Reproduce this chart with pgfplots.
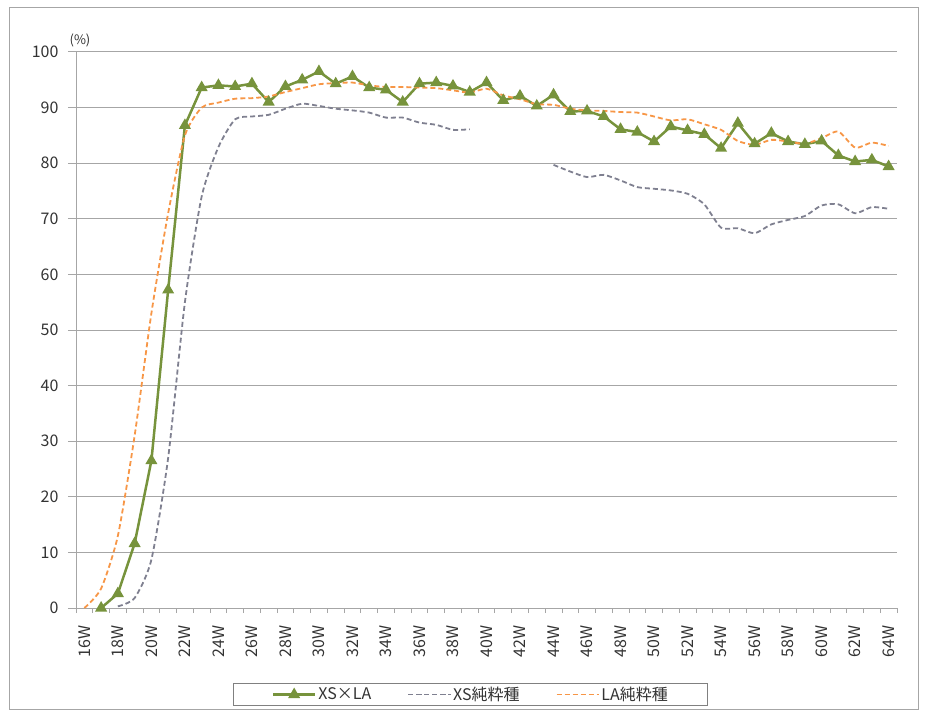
\documentclass[border=0pt]{standalone}
\usepackage{fontspec}
\setmainfont{Noto Sans CJK JP}
\usepackage{pgfplots}
\pgfplotsset{compat=1.18}
\definecolor{xsla}{HTML}{77933C}
\definecolor{xspure}{HTML}{7F8090}
\definecolor{lapure}{HTML}{F79646}
\definecolor{axgray}{HTML}{A6A6A6}
\definecolor{txt}{HTML}{333333}

\begin{document}
\begin{tikzpicture}[x=1pt,y=1pt]
\useasboundingbox (-76,-107) rectangle (852,608);
\draw[axgray, line width=1pt] (-66,-101) rectangle (842,600);
\begin{axis}[
  at={(0,0)}, anchor=south west,
  scale only axis, width=821pt, height=556pt,
  xmin=15.5, xmax=64.5, ymin=0, ymax=100,
  axis x line*=bottom, axis y line*=left,
  axis line style={axgray, line width=1pt},
  ymajorgrids, grid style={axgray, line width=1pt},
  ytick={0,10,...,100},
  xtick={16,18,...,64},
  xticklabels={16W,18W,20W,22W,24W,26W,28W,30W,32W,34W,36W,38W,40W,42W,44W,46W,48W,50W,52W,54W,56W,58W,60W,62W,64W},
  minor xtick={15.5,16.5,...,64.5},
  major x tick style={draw=none},
  minor x tick style={axgray, line width=0.8pt},
  y tick style={axgray, line width=1pt},
  tick align=outside, major tick length=8pt, minor tick length=5pt,
  /pgf/number format/assume math mode=true,
  ticklabel style={font=\fontsize{16}{18}\selectfont, text=txt},
  xticklabel style={rotate=90, anchor=east},
  xticklabel shift=6pt, yticklabel shift=6pt,
  legend style={at={(0.481,-0.1763)}, anchor=south, legend columns=-1,
    draw=gray, line width=1pt, font=\fontsize{16}{18}\selectfont, text=txt,
    inner xsep=38pt, inner ysep=1.5pt, /tikz/every even column/.append style={column sep=34pt}},
  legend image code/.code={\draw[mark repeat=2,mark phase=2,#1] plot coordinates {(0pt,0pt) (21pt,0pt) (42pt,0pt)};},
]
\addplot[xsla, line width=2.5pt, mark=triangle*, mark size=4.5pt, mark options={solid, fill=xsla}] coordinates {
(17,0) (18,2.6) (19,11.6) (20,26.5) (21,57.2) (22,86.8) (23,93.6) (24,94.0) (25,93.8) (26,94.3)
(27,91.0) (28,93.8) (29,95.0) (30,96.5) (31,94.3) (32,95.6) (33,93.6) (34,93.2) (35,91.0) (36,94.3)
(37,94.5) (38,93.9) (39,92.8) (40,94.5) (41,91.3) (42,92.1) (43,90.3) (44,92.3) (45,89.3) (46,89.4)
(47,88.4) (48,86.1) (49,85.6) (50,83.9) (51,86.6) (52,85.9) (53,85.2) (54,82.7) (55,87.2) (56,83.5)
(57,85.4) (58,83.9) (59,83.4) (60,84.0) (61,81.4) (62,80.3) (63,80.6) (64,79.4)};
\addlegendentry{XS×LA}
\addplot[xspure, line width=1.8pt, dash pattern=on 5pt off 3pt, smooth, tension=0.4, no markers] coordinates {
(18,0.3) (19,1.8) (20,8.7) (21,27) (22,55) (23,74) (24,82.9) (25,87.9) (26,88.4) (27,88.7)
(28,89.8) (29,90.7) (30,90.3) (31,89.8) (32,89.5) (33,89.1) (34,88.2) (35,88.2) (36,87.3) (37,86.9)
(38,86.0) (39,86.1)};
\addlegendentry{XS純粋種}
\addplot[lapure, line width=1.8pt, dash pattern=on 5pt off 3pt, smooth, tension=0.4, no markers] coordinates {
(16,0) (17,3.5) (18,13) (19,31) (20,53) (21,71) (22,85) (23,90) (24,90.9) (25,91.6)
(26,91.7) (27,92) (28,92.8) (29,93.5) (30,94.2) (31,94.4) (32,94.5) (33,94) (34,93.7) (35,93.7)
(36,93.6) (37,93.5) (38,93.1) (39,92.7) (40,93.4) (41,92.2) (42,91.5) (43,90.6) (44,90.5) (45,89.8)
(46,89.5) (47,89.4) (48,89.2) (49,89.1) (50,88.4) (51,87.7) (52,87.9) (53,87.0) (54,86.0) (55,84.0)
(56,83.3) (57,84.2) (58,83.9) (59,83.5) (60,84.5) (61,85.7) (62,82.8) (63,83.7) (64,83.1)};
\addlegendentry{LA純粋種}
\addplot[xspure, line width=1.8pt, dash pattern=on 5pt off 3pt, smooth, tension=0.4, no markers, forget plot] coordinates {
(44,79.7) (45,78.5) (46,77.5) (47,77.9) (48,76.9) (49,75.7) (50,75.4) (51,75.1) (52,74.5) (53,72.6)
(54,68.4) (55,68.3) (56,67.4) (57,69) (58,69.8) (59,70.5) (60,72.4) (61,72.6) (62,71) (63,72.1) (64,71.8)};
\end{axis}
\node[font=\fontsize{13}{15}\selectfont, text=txt] at (4,568) {(\%)};
\end{tikzpicture}
\end{document}
